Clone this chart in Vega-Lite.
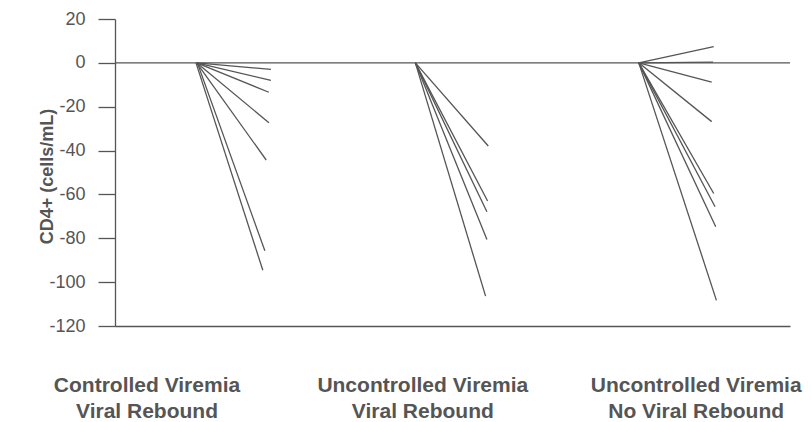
{
  "$schema": "https://vega.github.io/schema/vega-lite/v6.json",
  "width": 675,
  "height": 307,
  "autosize": {"type": "none"},
  "padding": {"left": 115, "top": 19, "right": 21, "bottom": 96},
  "background": "white",
  "config": {"view": {"stroke": null}},
  "datasets": {
    "fans": [
      {"group": "Controlled Viremia / Viral Rebound", "t0": 12.1, "t1": 23.1, "start": 0, "change": -3},
      {"group": "Controlled Viremia / Viral Rebound", "t0": 12.1, "t1": 23.1, "start": 0, "change": -8},
      {"group": "Controlled Viremia / Viral Rebound", "t0": 12.1, "t1": 22.8, "start": 0, "change": -13.4},
      {"group": "Controlled Viremia / Viral Rebound", "t0": 12.1, "t1": 22.8, "start": 0, "change": -27.3},
      {"group": "Controlled Viremia / Viral Rebound", "t0": 12.1, "t1": 22.4, "start": 0, "change": -44.3},
      {"group": "Controlled Viremia / Viral Rebound", "t0": 12.2, "t1": 22.2, "start": 0, "change": -85.7},
      {"group": "Controlled Viremia / Viral Rebound", "t0": 12.0, "t1": 21.9, "start": 0, "change": -94.6},
      {"group": "Uncontrolled Viremia / Viral Rebound", "t0": 44.5, "t1": 55.3, "start": 0, "change": -37.9},
      {"group": "Uncontrolled Viremia / Viral Rebound", "t0": 44.5, "t1": 55.2, "start": 0, "change": -63},
      {"group": "Uncontrolled Viremia / Viral Rebound", "t0": 44.5, "t1": 55.1, "start": 0, "change": -67.9},
      {"group": "Uncontrolled Viremia / Viral Rebound", "t0": 44.5, "t1": 55.1, "start": 0, "change": -80.5},
      {"group": "Uncontrolled Viremia / Viral Rebound", "t0": 44.5, "t1": 54.9, "start": 0, "change": -106.4},
      {"group": "Uncontrolled Viremia / No Viral Rebound", "t0": 77.6, "t1": 88.7, "start": 0, "change": 7.4},
      {"group": "Uncontrolled Viremia / No Viral Rebound", "t0": 77.6, "t1": 88.6, "start": 0, "change": 0.3},
      {"group": "Uncontrolled Viremia / No Viral Rebound", "t0": 77.6, "t1": 88.4, "start": 0, "change": -8.8},
      {"group": "Uncontrolled Viremia / No Viral Rebound", "t0": 77.6, "t1": 88.4, "start": 0, "change": -26.8},
      {"group": "Uncontrolled Viremia / No Viral Rebound", "t0": 77.6, "t1": 88.7, "start": 0, "change": -59.6},
      {"group": "Uncontrolled Viremia / No Viral Rebound", "t0": 77.6, "t1": 88.9, "start": 0, "change": -65.6},
      {"group": "Uncontrolled Viremia / No Viral Rebound", "t0": 77.6, "t1": 89.0, "start": 0, "change": -74.7},
      {"group": "Uncontrolled Viremia / No Viral Rebound", "t0": 77.6, "t1": 89.1, "start": 0, "change": -108.3}
    ],
    "labels": [
      {"label": "Controlled Viremia\nViral Rebound", "center": 4.74},
      {"label": "Uncontrolled Viremia\nViral Rebound", "center": 45.6},
      {"label": "Uncontrolled Viremia\nNo Viral Rebound", "center": 86.1}
    ],
    "baseline": [{"level": 0}]
  },
  "layer": [
    {
      "data": {"name": "fans"},
      "mark": {"type": "rule", "color": "#555555", "strokeWidth": 1.3},
      "encoding": {
        "x": {
          "field": "t0", "type": "quantitative",
          "scale": {"domain": [0, 100], "nice": false, "zero": false},
          "axis": {"title": null, "labels": false, "ticks": false, "grid": false, "domainColor": "#555555", "domainWidth": 1.3}
        },
        "x2": {"field": "t1"},
        "y": {
          "field": "start", "type": "quantitative",
          "scale": {"domain": [-120, 20], "nice": false},
          "axis": {
            "values": [-120, -100, -80, -60, -40, -20, 0, 20],
            "labelExpr": "'' + datum.value",
            "grid": false,
            "domainColor": "#555555", "domainWidth": 1.3,
            "tickColor": "#555555", "tickWidth": 1.3, "tickSize": 17,
            "labelPadding": 13,
            "labelFont": "Liberation Sans", "labelFontSize": 18, "labelColor": "#555555",
            "title": "CD4+ (cells/mL)",
            "titleFont": "Liberation Sans", "titleFontSize": 18, "titleFontWeight": "bold", "titleColor": "#555555",
            "titleAngle": -90, "titleAlign": "center", "titleBaseline": "middle",
            "titleX": -68, "titleY": 157
          }
        },
        "y2": {"field": "change"}
      }
    },
    {
      "data": {"name": "baseline"},
      "mark": {"type": "rule", "color": "#555555", "strokeWidth": 1.3},
      "encoding": {"y": {"field": "level", "type": "quantitative"}}
    },
    {
      "data": {"name": "labels"},
      "mark": {
        "type": "text", "align": "center", "baseline": "top", "dy": 49,
        "lineBreak": "\n", "lineHeight": 26,
        "font": "Liberation Sans", "fontSize": 21, "fontWeight": "bold", "color": "#555555"
      },
      "encoding": {
        "x": {"field": "center", "type": "quantitative"},
        "y": {"datum": -120},
        "text": {"field": "label"}
      }
    }
  ]
}
